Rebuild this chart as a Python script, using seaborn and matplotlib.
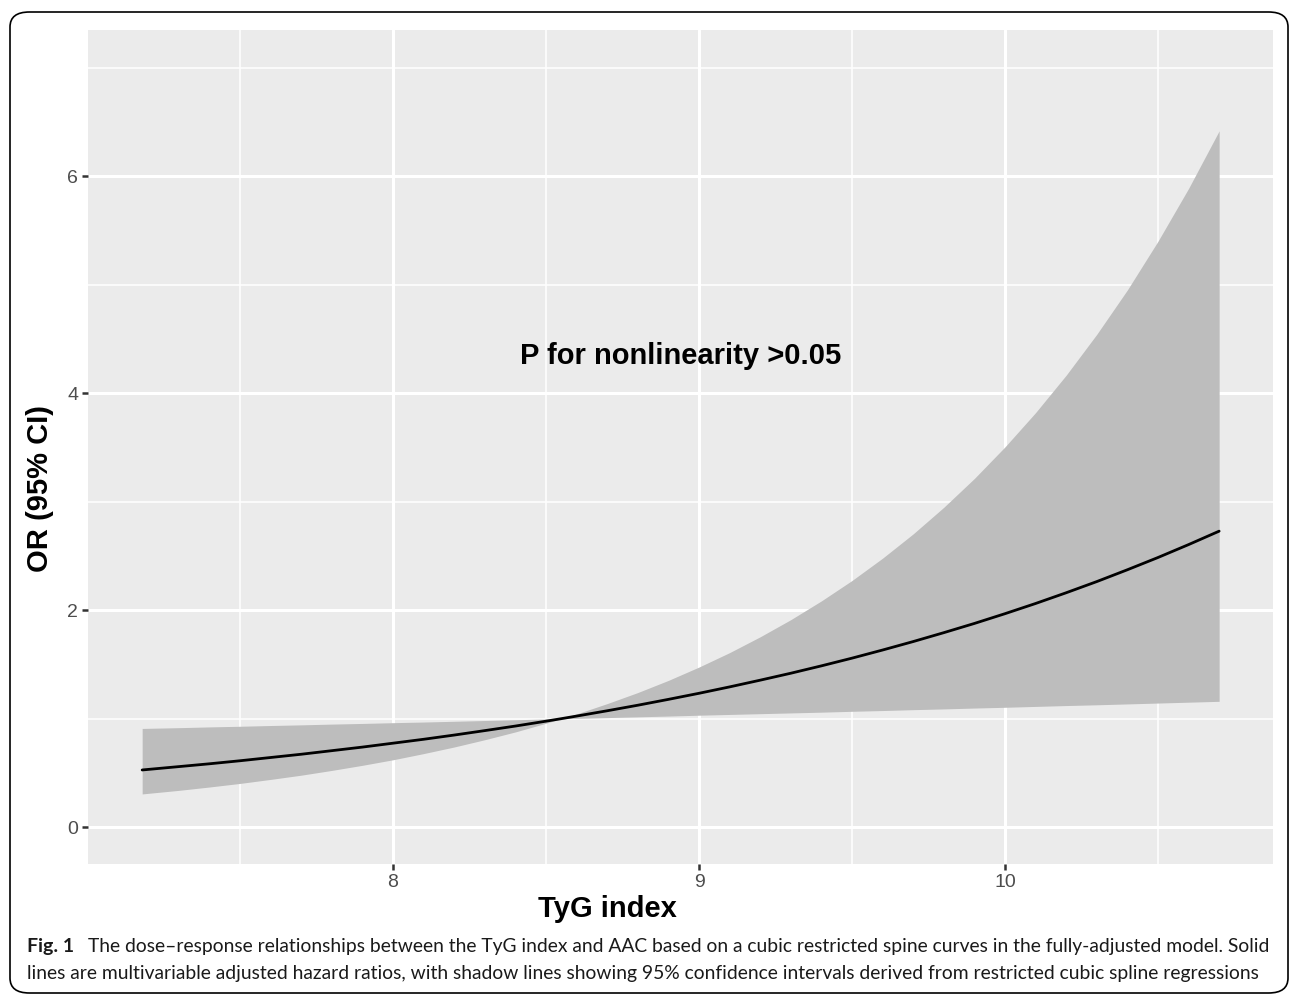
import matplotlib
matplotlib.use("Agg")
import matplotlib.pyplot as plt
from matplotlib.patches import FancyBboxPatch
import pandas as pd
import seaborn as sns

# values
tyg = [7.18, 7.3, 7.4, 7.5, 7.6, 7.7, 7.8, 7.9, 8.0, 8.1, 8.2, 8.3, 8.4, 8.5,
       8.55, 8.6, 8.7, 8.8, 8.9, 9.0, 9.1, 9.2, 9.3, 9.4, 9.5, 9.6, 9.7, 9.8,
       9.9, 10.0, 10.1, 10.2, 10.3, 10.4, 10.5, 10.6, 10.7]
odds_ratio = [0.527, 0.558, 0.584, 0.612, 0.642, 0.672, 0.705, 0.738, 0.774,
              0.810, 0.849, 0.890, 0.932, 0.977, 1.0, 1.024, 1.073, 1.124,
              1.178, 1.234, 1.293, 1.355, 1.419, 1.487, 1.558, 1.633, 1.711,
              1.793, 1.878, 1.968, 2.062, 2.161, 2.264, 2.373, 2.486, 2.605, 2.729]
ci_lower = [0.306, 0.339, 0.370, 0.403, 0.440, 0.479, 0.523, 0.570, 0.621,
            0.678, 0.739, 0.806, 0.878, 0.958, 1.0, 1.003, 1.010, 1.017,
            1.024, 1.032, 1.039, 1.046, 1.053, 1.060, 1.068, 1.075, 1.083,
            1.090, 1.098, 1.105, 1.113, 1.121, 1.128, 1.136, 1.144, 1.152, 1.160]
ci_upper = [0.910, 0.917, 0.924, 0.930, 0.937, 0.943, 0.950, 0.956, 0.963,
            0.969, 0.976, 0.983, 0.990, 0.997, 1.0, 1.044, 1.139, 1.241,
            1.353, 1.476, 1.609, 1.755, 1.913, 2.086, 2.274, 2.480, 2.704,
            2.949, 3.215, 3.506, 3.822, 4.167, 4.544, 4.953, 5.402, 5.889, 6.420]

x_ticks = [8, 9, 10]
y_ticks = [0, 2, 4, 6]
annotation = "P for nonlinearity >0.05"
caption_bold = "Fig. 1"
caption_1 = ("The dose\u2013response relationships between the TyG index and AAC based on a cubic "
             "restricted spine curves in the fully-adjusted model. Solid")
caption_2 = ("lines are multivariable adjusted hazard ratios, with shadow lines showing 95% "
             "confidence intervals derived from restricted cubic spline regressions")

df = pd.DataFrame({"tyg": tyg, "or": odds_ratio, "lo": ci_lower, "hi": ci_upper})

sns.set_theme(style="darkgrid", rc={
    "axes.facecolor": "#EBEBEB",
    "grid.color": "white",
    "xtick.bottom": True,
    "ytick.left": True,
})
plt.rcParams["font.family"] = ["Liberation Sans", "DejaVu Sans"]

fig = plt.figure(figsize=(12.96, 9.97), dpi=100)
ax = fig.add_axes([88 / 1296, 1 - 864 / 997, (1273 - 88) / 1296, (864 - 30) / 997])

ax.fill_between(df["tyg"], df["lo"], df["hi"], color="#BDBDBD", lw=0, zorder=2)
sns.lineplot(data=df, x="tyg", y="or", ax=ax, color="black", lw=2, zorder=3)

ax.set_xlim(7.003, 10.876)
ax.set_ylim(-0.34, 7.35)
ax.set_xticks(x_ticks)
ax.set_yticks(y_ticks)
ax.set_xticks([7.5, 8.5, 9.5, 10.5], minor=True)
ax.set_yticks([1, 3, 5, 7], minor=True)
ax.grid(which="major", color="white", lw=2.2)
ax.grid(which="minor", color="white", lw=1.1)
ax.set_axisbelow(True)
ax.tick_params(which="major", length=4, width=1.8, color="#333333",
               labelsize=14, labelcolor="#4D4D4D", pad=3)
ax.tick_params(which="minor", length=0)
for s in ax.spines.values():
    s.set_visible(False)

ax.set_xlabel("TyG index", fontsize=21, fontweight="bold", color="black")
ax.set_ylabel("OR (95% CI)", fontsize=21, fontweight="bold", color="black")
ax.xaxis.set_label_coords((607 - 88) / 1185, (864 - 909) / 834)
ax.yaxis.set_label_coords((40 - 88) / 1185, (864 - 488) / 834)
ax.xaxis.label.set_va("center")
ax.yaxis.label.set_va("center")

ax.text(8.94, 4.34, annotation, fontsize=21, fontweight="bold", ha="center",
        va="center", color="black")

# caption under the plot
cap_font = ["Lato", "DejaVu Sans"]
fig.text(27 / 1296, 1 - 946 / 997, caption_bold, fontsize=14, fontweight="bold",
         family=cap_font, va="center", color="#1a1a1a")
fig.text(88 / 1296, 1 - 946 / 997, caption_1, fontsize=13.9, family=cap_font,
         va="center", color="#1a1a1a")
fig.text(27 / 1296, 1 - 973 / 997, caption_2, fontsize=13.9, family=cap_font,
         va="center", color="#1a1a1a")

border = FancyBboxPatch((10 / 1296, 1 - 993 / 997), 1278 / 1296, 981 / 997,
                        boxstyle="round,pad=0,rounding_size=0.015",
                        transform=fig.transFigure, fill=False, ec="black", lw=1.2)
fig.patches.append(border)

fig.savefig("out.png", dpi=100)
